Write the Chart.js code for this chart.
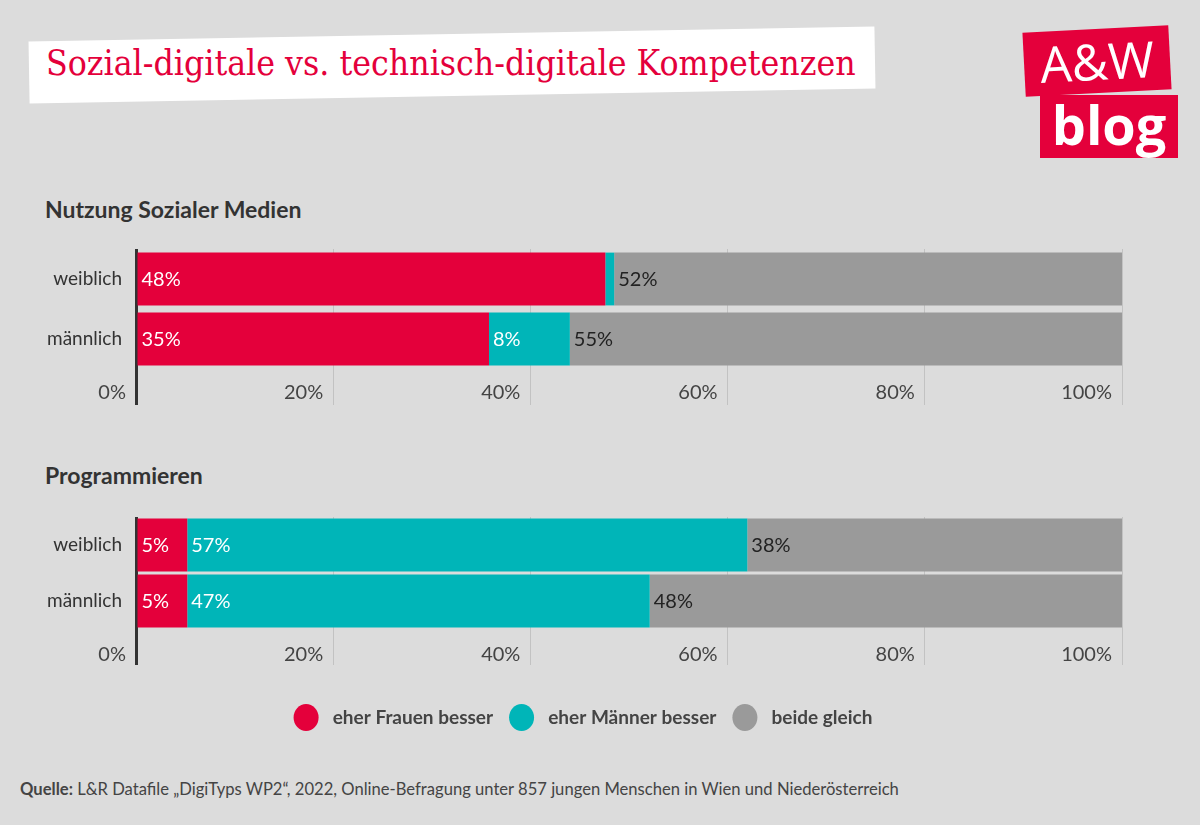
<!DOCTYPE html>
<html lang="de">
<head>
<meta charset="UTF-8">
<title>Sozial-digitale vs. technisch-digitale Kompetenzen</title>
<script src="https://cdn.jsdelivr.net/npm/chart.js"></script>
<style>
  body { margin: 0; background: #dcdcdc; font-family: Lato, sans-serif; }
  #page { position: relative; width: 1200px; height: 825px; overflow: hidden; }
  .titlebox { position: absolute; left: 29px; top: 34px; width: 846px; height: 62px; background: #fff; transform: rotate(-1deg); }
  #title { position: absolute; left: 46px; top: 42px; font-family: "DejaVu Serif", serif; font-size: 36px; color: #e4003b; white-space: nowrap; transform-origin: left top; }
  .logo1 { position: absolute; left: 1024px; top: 29px; width: 146px; height: 64px; background: #e4003b; transform: rotate(-3deg);
           color: #fff; font: 400 50px "Open Sans", sans-serif; text-align: center; line-height: 64px; }
  .logo2 { position: absolute; left: 1040px; top: 95px; width: 138px; height: 63px; background: #e4003b;
           color: #fff; font: 700 54px "Open Sans", sans-serif; text-align: center; line-height: 58px; }
  .section { position: absolute; left: 45px; font-weight: 700; font-size: 23px; color: #333; }
  .source { position: absolute; left: 20px; top: 779px; font-size: 16.6px; color: #444; }
  canvas { position: absolute; left: 0; }
</style>
</head>
<body>
<div id="page">
  <div class="titlebox"></div>
  <div id="title">Sozial-digitale vs. technisch-digitale Kompetenzen</div>
  <div class="logo1">A&amp;W</div>
  <div class="logo2">blog</div>

  <div class="section" style="top:195px">Nutzung Sozialer Medien</div>
  <canvas id="chartSocial" width="1200" height="169" style="top:240px"></canvas>

  <div class="section" style="top:461px">Programmieren</div>
  <canvas id="chartProg" width="1200" height="229" style="top:508px"></canvas>

  <div class="source"><b>Quelle:</b> L&amp;R Datafile „DigiTyps WP2“, 2022, Online-Befragung unter 857 jungen Menschen in Wien und Niederösterreich</div>
</div>

<script>
  // categories and series
  const categories = ['weiblich', 'männlich'];
  const seriesNames = ['eher Frauen besser', 'eher Männer besser', 'beide gleich'];
  const seriesColors = ['#e4003b', '#00b5b8', '#9a9a9a'];
  const xTicks = [0, 20, 40, 60, 80, 100];

  // Nutzung Sozialer Medien
  const socialFrauen = [47.6, 35.8];
  const socialMaenner = [0.9, 8.2];
  const socialGleich = [51.5, 56.0];
  const socialLabels = [['48%', '35%'], ['', '8%'], ['52%', '55%']];

  // Programmieren
  const progFrauen = [5.2, 5.2];
  const progMaenner = [56.8, 46.9];
  const progGleich = [38.0, 47.9];
  const progLabels = [['5%', '5%'], ['57%', '47%'], ['38%', '48%']];

  // fit the title to the width it has in the original
  const titleEl = document.getElementById('title');
  titleEl.style.transform = 'scaleX(' + (810 / titleEl.offsetWidth) + ')';

  // value labels at the start of each segment
  const barLabels = {
    id: 'barLabels',
    afterDatasetsDraw(chart) {
      const ctx = chart.ctx;
      ctx.save();
      ctx.font = '20px Lato';
      ctx.textBaseline = 'middle';
      ctx.textAlign = 'left';
      chart.data.datasets.forEach((ds, i) => {
        chart.getDatasetMeta(i).data.forEach((bar, j) => {
          const txt = ds.valueLabels[j];
          if (!txt) return;
          ctx.fillStyle = i === 2 ? '#222' : '#fff';
          ctx.fillText(txt, Math.min(bar.base, bar.x) + 4, bar.y + 1);
        });
      });
      ctx.restore();
    }
  };

  function makeChart(id, values, labels, opts) {
    return new Chart(document.getElementById(id), {
      type: 'bar',
      data: {
        labels: categories,
        datasets: values.map((v, i) => ({
          label: seriesNames[i],
          data: v,
          valueLabels: labels[i],
          backgroundColor: seriesColors[i],
          borderWidth: 0,
          barPercentage: opts.barPct,
          categoryPercentage: 1
        }))
      },
      options: {
        indexAxis: 'y',
        responsive: false,
        animation: false,
        layout: { padding: { top: 9, right: 78, left: 44, bottom: 0 } },
        scales: {
          x: {
            stacked: true,
            min: 0,
            max: 100,
            afterBuildTicks: scale => { scale.ticks = xTicks.map(v => ({ value: v })); },
            afterFit: scale => { scale.height = opts.axisHeight; },
            border: { display: false },
            grid: {
              color: c => c.index === 0 ? '#333' : '#c2c2c2',
              tickColor: c => c.index === 0 ? '#333' : '#c2c2c2',
              lineWidth: c => c.index === 0 ? 3 : 1,
              tickWidth: c => c.index === 0 ? 3 : 1,
              tickLength: 36
            },
            ticks: {
              align: 'end',
              padding: opts.tickPad,
              color: '#444',
              font: { family: 'Lato', size: 20 },
              callback: v => v + '%\u2002'
            }
          },
          y: {
            stacked: true,
            afterFit: scale => {
              scale.width = 92;
              scale.paddingTop = 0;
              scale.paddingBottom = 0;
            },
            border: { display: false },
            grid: { display: false, drawTicks: false },
            ticks: { padding: 14, color: '#333', font: { family: 'Lato', size: 19 } }
          }
        },
        plugins: {
          tooltip: { enabled: false },
          legend: {
            display: opts.legend,
            position: 'bottom',
            labels: {
              usePointStyle: true,
              pointStyle: 'circle',
              pointStyleWidth: 25,
              padding: 16,
              color: '#444',
              font: { family: 'Lato', size: 19, weight: 'bold' },
              generateLabels: chart => Chart.defaults.plugins.legend.labels.generateLabels(chart)
                .map(item => Object.assign(item, { text: ' ' + item.text }))
            }
          }
        }
      },
      plugins: [barLabels]
    });
  }

  makeChart('chartSocial', [socialFrauen, socialMaenner, socialGleich], socialLabels,
    { barPct: 0.88, axisHeight: 40, tickPad: -24, legend: false });
  makeChart('chartProg', [progFrauen, progMaenner, progGleich], progLabels,
    { barPct: 0.95, axisHeight: 63, tickPad: -22, legend: true });
</script>
</body>
</html>
